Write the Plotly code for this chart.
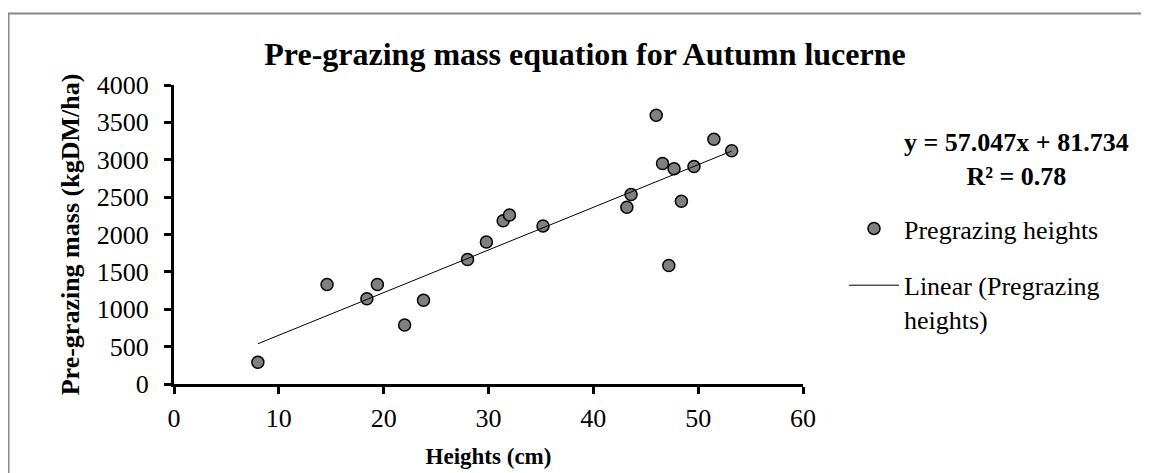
import plotly.graph_objects as go

# Data
heights = [8.0, 14.6, 18.4, 19.4, 22.0, 23.8, 28.0, 29.8, 31.4, 32.0, 35.2,
           43.2, 43.6, 46.0, 46.6, 47.2, 47.7, 48.4, 49.6, 51.5, 53.2]
mass = [290, 1330, 1140, 1330, 790, 1120, 1665, 1900, 2185, 2260, 2115,
        2365, 2535, 3595, 2950, 1585, 2880, 2445, 2910, 3275, 3120]

slope = 57.047
intercept = 81.734
r_squared = 0.78

x_ticks = [0, 10, 20, 30, 40, 50, 60]
y_ticks = [0, 500, 1000, 1500, 2000, 2500, 3000, 3500, 4000]

title_text = "Pre-grazing mass equation for Autumn lucerne"
x_title = "Heights (cm)"
y_title = "Pre-grazing mass (kgDM/ha)"
series_name = "Pregrazing heights"
trend_name = "Linear (Pregrazing<br>heights)"

FONT = "Liberation Serif, Times New Roman, serif"

trend_x = [min(heights), max(heights)]
trend_y = [slope * v + intercept for v in trend_x]

# plot area in figure pixels
L, R, T, B = 166, 795, 77, 376
PW, PH = R - L, B - T


def px(x):
    return (x - L) / PW


def py(y):
    return (B - y) / PH


fig = go.Figure()
fig.add_trace(go.Scatter(
    x=heights, y=mass, mode="markers", name=series_name,
    legendgroup="a",
    marker=dict(size=12, color="#808080", line=dict(color="black", width=1.5)),
))
fig.add_trace(go.Scatter(
    x=trend_x, y=trend_y, mode="lines", name=trend_name,
    legendgroup="b",
    line=dict(color="black", width=1),
))

fig.update_layout(
    width=1149, height=473,
    margin=dict(l=L, r=1149 - R, t=T, b=473 - B),
    paper_bgcolor="white", plot_bgcolor="white",
    font=dict(family=FONT, size=26, color="black"),
    title=dict(text="<b>" + title_text + "</b>", x=577 / 1149,
               xanchor="center", y=1 - 46 / 473, yanchor="middle",
               font=dict(family=FONT, size=32, color="black")),
    xaxis=dict(range=[0, 60], tickvals=x_ticks, showgrid=False, zeroline=False,
               showline=True, linecolor="black", linewidth=3,
               ticks="outside", ticklen=7, tickwidth=3, tickcolor="black",
               tickfont=dict(family=FONT, size=26), ticklabelstandoff=2,
               title=dict(text="<b>" + x_title + "</b>", standoff=16,
                          font=dict(family=FONT, size=23))),
    yaxis=dict(range=[0, 4000], tickvals=y_ticks, showgrid=False, zeroline=False,
               showline=True, linecolor="black", linewidth=3,
               ticks="outside", ticklen=7, tickwidth=3, tickcolor="black",
               tickfont=dict(family=FONT, size=26), ticklabelstandoff=10,
               title=dict(text="<b>" + y_title + "</b>", standoff=10,
                          font=dict(family=FONT, size=26))),
    showlegend=True,
    legend=dict(x=px(L + 670), xref="paper", y=py(B - 179), yref="paper",
                xanchor="left", yanchor="top", bgcolor="rgba(0,0,0,0)",
                font=dict(family=FONT, size=26), traceorder="grouped",
                tracegroupgap=20, valign="top", itemwidth=50),
    shapes=[dict(type="rect", xref="paper", yref="paper",
                 x0=px(0.5), x1=1.8, y0=-0.5, y1=py(5.5),
                 line=dict(color="#888888", width=2), fillcolor="rgba(0,0,0,0)",
                 layer="below")],
    annotations=[dict(text="<b>y = %.3fx + %.3f<br>R² = %.2f</b>" % (slope, intercept, r_squared),
                      xref="paper", yref="paper", x=px(1008),
                      y=py(151.5), xanchor="center", yanchor="middle",
                      showarrow=False, align="center",
                      font=dict(family=FONT, size=26, color="black"))],
)

fig.write_html("out.html")
